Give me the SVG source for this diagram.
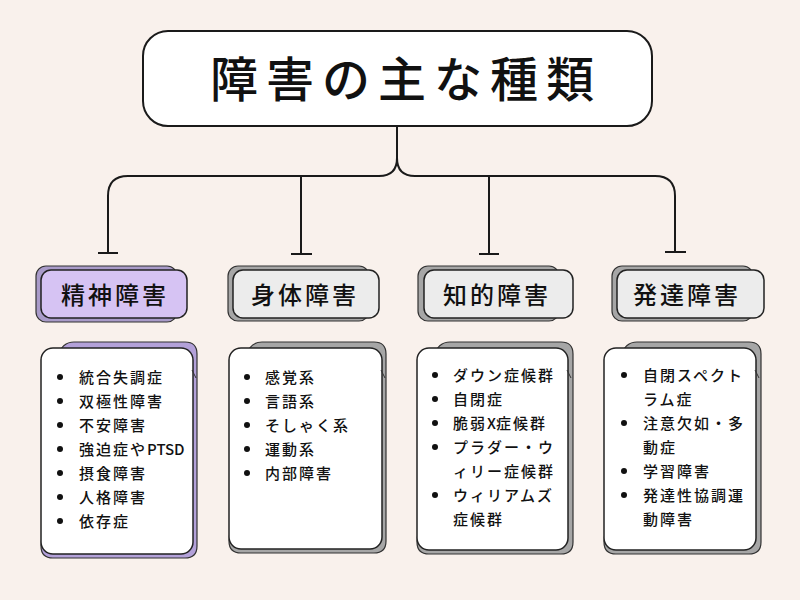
<svg xmlns="http://www.w3.org/2000/svg" width="800" height="600" viewBox="0 0 800 600">
<style>
text{font-family:"Noto Sans CJK JP","Noto Sans",sans-serif;fill:#111;}
.title{font-size:48px;font-weight:500;letter-spacing:8px;text-anchor:middle;}
.cat{font-size:24px;font-weight:500;letter-spacing:3px;text-anchor:middle;}
.item{font-size:15px;font-weight:500;letter-spacing:2px;}
.lat{letter-spacing:0px;}
.edge{fill:none;stroke:#1a1a1a;stroke-width:2;}
.front{stroke:#222;stroke-width:1.5;}
.back{stroke:#333;stroke-width:1.2;}
.bul{fill:#111;}
</style>
<rect width="800" height="600" fill="#f9f1ec"/>
<g id="connectors">
<path class="edge" d="M397,126 V158 Q397,176 379,176 H128 Q108,176 108,196 V253"/>
<path class="edge" d="M397,158 Q397,176 415,176 H655 Q675,176 675,196 V252"/>
<path class="edge" d="M301,176 V254"/>
<path class="edge" d="M489,176 V254"/>
<path class="edge" d="M98,253 H118 M291,254 H312 M479,254 H499 M665,252 H686"/>
</g>
<g id="title">
<rect x="143" y="31" width="509" height="95" rx="25" fill="#fff" stroke="#1a1a1a" stroke-width="2"/>
<text class="title" x="406" y="97">障害の主な種類</text>
</g>
<g id="cat-seishin">
<rect class="back" x="36" y="266" width="141" height="56" rx="10" fill="#a99bc9"/>
<rect class="front" x="41" y="270" width="146" height="48" rx="10" fill="#d6c3f3"/>
<text class="cat" x="115" y="304">精神障害</text>
</g>
<g id="cat-shintai">
<rect class="back" x="228" y="266" width="141" height="55" rx="10" fill="#a6a6a6"/>
<rect class="front" x="233" y="270" width="146" height="48" rx="10" fill="#ececec"/>
<text class="cat" x="305" y="304">身体障害</text>
</g>
<g id="cat-chiteki">
<rect class="back" x="418" y="266" width="141" height="55" rx="10" fill="#a6a6a6"/>
<rect class="front" x="424" y="270" width="149" height="48" rx="10" fill="#ececec"/>
<text class="cat" x="497" y="304">知的障害</text>
</g>
<g id="cat-hattatsu">
<rect class="back" x="612" y="266" width="141" height="55" rx="10" fill="#a6a6a6"/>
<rect class="front" x="617" y="270" width="147" height="48" rx="10" fill="#ececec"/>
<text class="cat" x="687" y="304">発達障害</text>
</g>
<g id="list-seishin">
<path class="back" fill="#b3a1d9" d="M58,356 Q62,342 74,342 H185 Q197,342 197,354 V546 Q197,558 185,558 H53 Q41,558 41,546 Z"/>
<rect class="front" x="41" y="348" width="152" height="206" rx="12" fill="#fff"/>
<path d="M192,370 L196,378" stroke="#333" stroke-width="1"/>
<circle class="bul" cx="60" cy="377" r="3"/><text class="item" x="79" y="383">統合失調症</text>
<circle class="bul" cx="60" cy="401" r="3"/><text class="item" x="79" y="407">双極性障害</text>
<circle class="bul" cx="60" cy="425" r="3"/><text class="item" x="79" y="431">不安障害</text>
<circle class="bul" cx="60" cy="449" r="3"/><text class="item" x="79" y="455">強迫症や<tspan class="lat">PTSD</tspan></text>
<circle class="bul" cx="60" cy="473" r="3"/><text class="item" x="79" y="479">摂食障害</text>
<circle class="bul" cx="60" cy="497" r="3"/><text class="item" x="79" y="503">人格障害</text>
<circle class="bul" cx="60" cy="521" r="3"/><text class="item" x="79" y="527">依存症</text>
</g>
<g id="list-shintai">
<path class="back" fill="#a6a6a6" d="M246,356 Q250,342 262,342 H374 Q386,342 386,354 V541 Q386,553 374,553 H241 Q229,553 229,541 Z"/>
<rect class="front" x="229" y="348" width="153" height="201" rx="12" fill="#fff"/>
<path d="M381,370 L385,378" stroke="#333" stroke-width="1"/>
<circle class="bul" cx="247" cy="377" r="3"/><text class="item" x="265" y="383">感覚系</text>
<circle class="bul" cx="247" cy="401" r="3"/><text class="item" x="265" y="407">言語系</text>
<circle class="bul" cx="247" cy="425" r="3"/><text class="item" x="265" y="431">そしゃく系</text>
<circle class="bul" cx="247" cy="449" r="3"/><text class="item" x="265" y="455">運動系</text>
<circle class="bul" cx="247" cy="473" r="3"/><text class="item" x="265" y="479">内部障害</text>
</g>
<g id="list-chiteki">
<path class="back" fill="#a6a6a6" d="M434,356 Q438,342 450,342 H561 Q573,342 573,354 V542 Q573,554 561,554 H429 Q417,554 417,542 Z"/>
<rect class="front" x="417" y="348" width="151" height="202" rx="12" fill="#fff"/>
<path d="M567,370 L571,378" stroke="#333" stroke-width="1"/>
<circle class="bul" cx="435" cy="375" r="3"/><text class="item" x="453" y="381">ダウン症候群</text>
<circle class="bul" cx="435" cy="399" r="3"/><text class="item" x="453" y="405">自閉症</text>
<circle class="bul" cx="435" cy="423" r="3"/><text class="item" x="453" y="429">脆弱<tspan class="lat">X</tspan>症候群</text>
<circle class="bul" cx="435" cy="447" r="3"/><text class="item" x="453" y="453">プラダー・ウ</text>
<text class="item" x="453" y="477">ィリー症候群</text>
<circle class="bul" cx="435" cy="495" r="3"/><text class="item" x="453" y="501">ウィリアムズ</text>
<text class="item" x="453" y="525">症候群</text>
</g>
<g id="list-hattatsu">
<path class="back" fill="#a6a6a6" d="M621,356 Q625,342 637,342 H749 Q761,342 761,354 V542 Q761,554 749,554 H616 Q604,554 604,542 Z"/>
<rect class="front" x="604" y="348" width="152" height="202" rx="12" fill="#fff"/>
<path d="M755,370 L759,378" stroke="#333" stroke-width="1"/>
<circle class="bul" cx="624" cy="375" r="3"/><text class="item" x="643" y="381">自閉スペクト</text>
<text class="item" x="643" y="405">ラム症</text>
<circle class="bul" cx="624" cy="423" r="3"/><text class="item" x="643" y="429">注意欠如・多</text>
<text class="item" x="643" y="453">動症</text>
<circle class="bul" cx="624" cy="471" r="3"/><text class="item" x="643" y="477">学習障害</text>
<circle class="bul" cx="624" cy="495" r="3"/><text class="item" x="643" y="501">発達性協調運</text>
<text class="item" x="643" y="525">動障害</text>
</g>
</svg>
